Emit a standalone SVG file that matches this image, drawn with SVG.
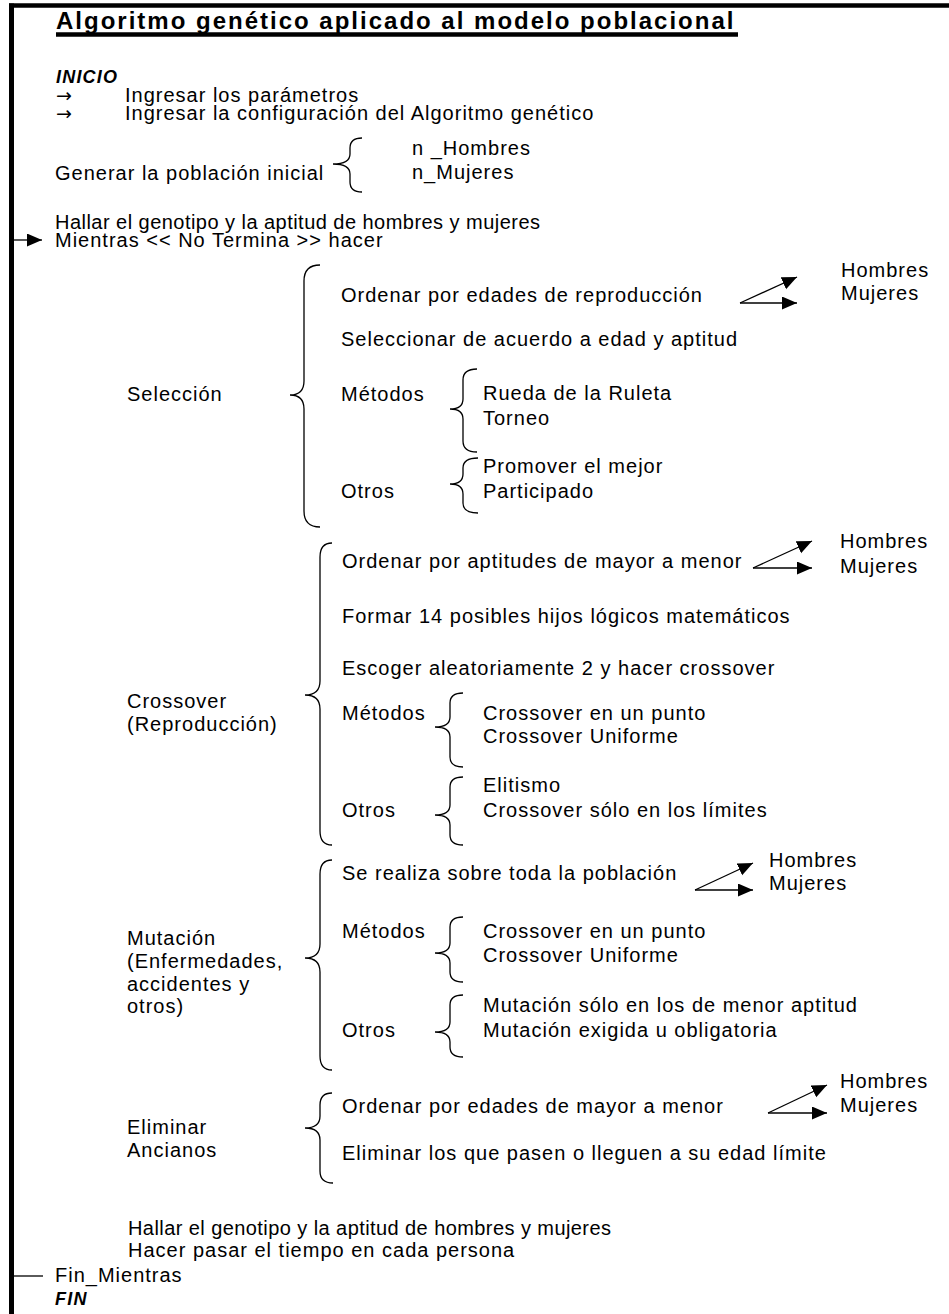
<svg xmlns="http://www.w3.org/2000/svg" width="949" height="1314" viewBox="0 0 949 1314">
<defs>
<style>
text{font-family:"Liberation Sans",Arial,sans-serif;font-size:20px;fill:#000}
.t{letter-spacing:1px}
.title{font-weight:bold;font-size:24px;letter-spacing:2px}
.bi{font-weight:bold;font-style:italic;font-size:18px;letter-spacing:1.2px}
.arr{font-family:"DejaVu Sans",sans-serif;font-size:19px}
.brace{fill:none;stroke:#000;stroke-width:1.3}
.frame{stroke:#000;fill:none}
.con{stroke:#000;stroke-width:1.3;fill:none}
</style>
<marker id="ah" markerUnits="userSpaceOnUse" markerWidth="16" markerHeight="14" refX="15" refY="6.5" orient="auto">
<path d="M0,0 L15,6.5 L0,13 Z" fill="#000"/>
</marker>
</defs>
<rect width="949" height="1314" fill="#fff"/>
<g id="frame">
<line class="frame" x1="9" y1="5.5" x2="949" y2="5.5" stroke-width="4.5"/>
<line class="frame" x1="11.5" y1="3.5" x2="11.5" y2="1314" stroke-width="5"/>
</g>
<g id="title">
<text class="title" x="56" y="29">Algoritmo genético aplicado al modelo poblacional</text>
<line x1="56" y1="34.5" x2="738" y2="34.5" stroke="#000" stroke-width="4.5"/>
</g>
<g id="inicio">
<text class="bi" x="56" y="83">INICIO</text>
<text class="arr" x="56" y="102">→</text>
<text class="t" x="125" y="102">Ingresar los parámetros</text>
<text class="arr" x="56" y="120">→</text>
<text class="t" x="125" y="120">Ingresar la configuración del Algoritmo genético</text>
<text class="t" x="412" y="155">n _Hombres</text>
<text class="t" x="55" y="180">Generar la población inicial</text>
<text class="t" x="412" y="179">n_Mujeres</text>
<path class="brace" d="M362,138 Q350,138 350,148 L350,154 Q350,164 333,164 Q350,164 350,174 L350,182 Q350,192 362,192"/>
<text class="t" x="55" y="229" textLength="486" lengthAdjust="spacing">Hallar el genotipo y la aptitud de hombres y mujeres</text>
<text class="t" x="55" y="247">Mientras &lt;&lt; No Termina &gt;&gt; hacer</text>
</g>
<g id="seleccion">
<text class="t" x="127" y="401">Selección</text>
<path class="brace" d="M320,265 Q304,265 304,281 L304,381 Q304,395 290,395 Q304,395 304,409 L304,511 Q304,527 320,527"/>
<text class="t" x="341" y="302">Ordenar por edades de reproducción</text>
<text class="t" x="841" y="277">Hombres</text>
<text class="t" x="841" y="300">Mujeres</text>
<text class="t" x="341" y="346">Seleccionar de acuerdo a edad y aptitud</text>
<text class="t" x="341" y="401">Métodos</text>
<path class="brace" d="M477,369 Q463,369 463,380 L463,399 Q463,409 450,409 Q463,409 463,419 L463,441 Q463,452 477,452"/>
<text class="t" x="483" y="400">Rueda de la Ruleta</text>
<text class="t" x="483" y="425">Torneo</text>
<path class="brace" d="M478,458 Q463,458 463,468 L463,474 Q463,484 450,484 Q463,484 463,494 L463,503 Q463,513 478,513"/>
<text class="t" x="483" y="473">Promover el mejor</text>
<text class="t" x="341" y="498">Otros</text>
<text class="t" x="483" y="498">Participado</text>
</g>
<g id="crossover">
<text class="t" x="127" y="708">Crossover</text>
<text class="t" x="127" y="731">(Reproducción)</text>
<path class="brace" d="M332,543 Q320,543 320,557 L320,681 Q320,695 305,695 Q320,695 320,709 L320,831 Q320,845 332,845"/>
<text class="t" x="342" y="568">Ordenar por aptitudes de mayor a menor</text>
<text class="t" x="840" y="548">Hombres</text>
<text class="t" x="840" y="573">Mujeres</text>
<text class="t" x="342" y="623">Formar 14 posibles hijos lógicos matemáticos</text>
<text class="t" x="342" y="675">Escoger aleatoriamente 2 y hacer crossover</text>
<text class="t" x="342" y="720">Métodos</text>
<path class="brace" d="M463,693 Q450,693 450,703 L450,717 Q450,727 435,727 Q450,727 450,737 L450,757 Q450,767 463,767"/>
<text class="t" x="483" y="720">Crossover en un punto</text>
<text class="t" x="483" y="743">Crossover Uniforme</text>
<path class="brace" d="M463,777 Q450,777 450,787 L450,805 Q450,815 435,815 Q450,815 450,825 L450,835 Q450,845 463,845"/>
<text class="t" x="483" y="792">Elitismo</text>
<text class="t" x="342" y="817">Otros</text>
<text class="t" x="483" y="817">Crossover sólo en los límites</text>
</g>
<g id="mutacion">
<text class="t" x="127" y="945">Mutación</text>
<text class="t" x="127" y="968">(Enfermedades,</text>
<text class="t" x="127" y="991">accidentes y</text>
<text class="t" x="127" y="1013">otros)</text>
<path class="brace" d="M332,860 Q320,860 320,874 L320,944 Q320,958 305,958 Q320,958 320,972 L320,1056 Q320,1070 332,1070"/>
<text class="t" x="342" y="880">Se realiza sobre toda la población</text>
<text class="t" x="769" y="867">Hombres</text>
<text class="t" x="769" y="890">Mujeres</text>
<text class="t" x="342" y="938">Métodos</text>
<path class="brace" d="M463,917 Q450,917 450,927 L450,943 Q450,953 435,953 Q450,953 450,963 L450,972 Q450,982 463,982"/>
<text class="t" x="483" y="938">Crossover en un punto</text>
<text class="t" x="483" y="962">Crossover Uniforme</text>
<path class="brace" d="M463,995 Q450,995 450,1005 L450,1022 Q450,1032 435,1032 Q450,1032 450,1042 L450,1047 Q450,1057 463,1057"/>
<text class="t" x="483" y="1012">Mutación sólo en los de menor aptitud</text>
<text class="t" x="342" y="1037">Otros</text>
<text class="t" x="483" y="1037">Mutación exigida u obligatoria</text>
</g>
<g id="eliminar">
<text class="t" x="127" y="1134">Eliminar</text>
<text class="t" x="127" y="1157">Ancianos</text>
<path class="brace" d="M332,1093 Q320,1093 320,1105 L320,1116 Q320,1128 305,1128 Q320,1128 320,1140 L320,1171 Q320,1183 333,1183"/>
<text class="t" x="342" y="1113">Ordenar por edades de mayor a menor</text>
<text class="t" x="840" y="1088">Hombres</text>
<text class="t" x="840" y="1112">Mujeres</text>
<text class="t" x="342" y="1160">Eliminar los que pasen o lleguen a su edad límite</text>
</g>
<g id="fin">
<text class="t" x="128" y="1235" textLength="484" lengthAdjust="spacing">Hallar el genotipo y la aptitud de hombres y mujeres</text>
<text class="t" x="128" y="1257">Hacer pasar el tiempo en cada persona</text>
<text class="t" x="55" y="1282">Fin_Mientras</text>
<text class="bi" x="55" y="1305">FIN</text>
</g>
<g id="connectors">
<line class="con" x1="14" y1="240" x2="42" y2="240" marker-end="url(#ah)"/>
<line class="con" x1="14" y1="1276" x2="43" y2="1276"/>
<line class="con" x1="740" y1="303" x2="797" y2="277" marker-end="url(#ah)"/>
<line class="con" x1="740" y1="303" x2="797" y2="303" marker-end="url(#ah)"/>
<line class="con" x1="753" y1="568" x2="812" y2="541" marker-end="url(#ah)"/>
<line class="con" x1="753" y1="568" x2="812" y2="568" marker-end="url(#ah)"/>
<line class="con" x1="695" y1="890" x2="753" y2="863" marker-end="url(#ah)"/>
<line class="con" x1="695" y1="890" x2="753" y2="890" marker-end="url(#ah)"/>
<line class="con" x1="768" y1="1113" x2="827" y2="1085" marker-end="url(#ah)"/>
<line class="con" x1="768" y1="1113" x2="827" y2="1113" marker-end="url(#ah)"/>
</g>
</svg>
